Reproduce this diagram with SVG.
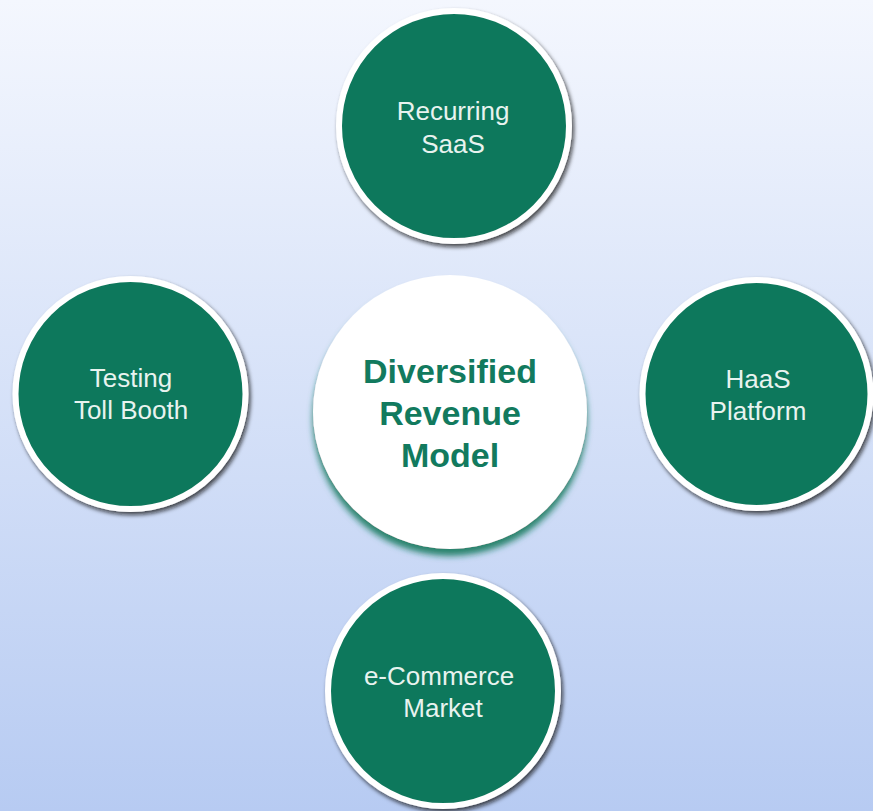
<svg xmlns="http://www.w3.org/2000/svg" width="873" height="811" viewBox="0 0 873 811">
  <defs>
    <linearGradient id="bg" x1="0" y1="0" x2="0" y2="1">
      <stop offset="0" stop-color="#f4f7fe"/>
      <stop offset="1" stop-color="#b7cbf2"/>
    </linearGradient>
    <filter id="sh" x="-20%" y="-20%" width="140%" height="140%">
      <feDropShadow dx="2" dy="3" stdDeviation="2.2" flood-color="#111118" flood-opacity="0.75"/>
    </filter>
    <filter id="gsh" x="-20%" y="-20%" width="140%" height="140%">
      <feDropShadow dx="0" dy="7" stdDeviation="3" flood-color="#137a5e" flood-opacity="0.9"/>
    </filter>
    <style>
      .sat { fill: #11785c; stroke: #ffffff; stroke-width: 6; filter: url(#sh); }
      .hub { fill: #ffffff; filter: url(#gsh); }
      .lbl { font-family: "Liberation Sans", Arial, sans-serif; font-size: 26px; fill: #e8f3ef; text-anchor: middle; }
      .hubl { font-family: "Liberation Sans", Arial, sans-serif; font-size: 34px; font-weight: bold; fill: #127a5e; text-anchor: middle; }
    </style>
  </defs>
  <rect x="0" y="0" width="873" height="811" fill="url(#bg)"/>
  <g id="connectors"/>
  <g id="hub">
    <circle class="hub" cx="450" cy="412" r="137"/>
    <text class="hubl" x="450" y="383">Diversified</text>
    <text class="hubl" x="450" y="425">Revenue</text>
    <text class="hubl" x="450" y="467">Model</text>
  </g>
  <g id="recurring-saas">
    <circle class="sat" cx="454" cy="126" r="115"/>
    <text class="lbl" x="453" y="120">Recurring</text>
    <text class="lbl" x="453" y="153">SaaS</text>
  </g>
  <g id="testing-toll-booth">
    <circle class="sat" cx="130.5" cy="394" r="115"/>
    <text class="lbl" x="131" y="387">Testing</text>
    <text class="lbl" x="131" y="419">Toll Booth</text>
  </g>
  <g id="haas-platform">
    <circle class="sat" cx="756.5" cy="394" r="114"/>
    <text class="lbl" x="758" y="388">HaaS</text>
    <text class="lbl" x="758" y="420">Platform</text>
  </g>
  <g id="ecommerce-market">
    <circle class="sat" cx="443" cy="691" r="115"/>
    <text class="lbl" x="439" y="685">e-Commerce</text>
    <text class="lbl" x="443" y="717">Market</text>
  </g>
</svg>
